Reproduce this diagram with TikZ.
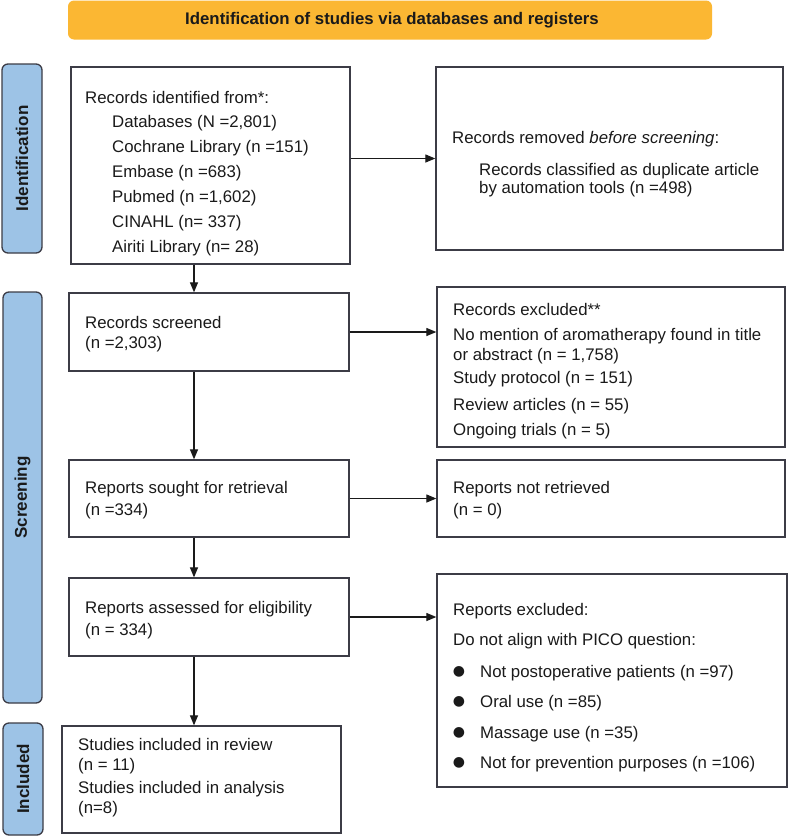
\documentclass[tikz,border=0pt]{standalone}
\usepackage{fontspec}
\setmainfont{Liberation Sans}
\newfontfamily\dejavu{DejaVu Sans}
\usetikzlibrary{arrows.meta}
\definecolor{hdr}{HTML}{FBB733}
\definecolor{side}{HTML}{9DC3E6}
\definecolor{edge}{HTML}{3C3C46}
\definecolor{ink}{HTML}{1A1A1A}
\begin{document}
\begin{tikzpicture}[x=1pt,y=-1pt,
  box/.style={draw=edge, line width=1.3pt, fill=white, inner sep=0pt},
  sidebar/.style={draw=edge, line width=1.3pt, fill=side, rounded corners=6pt, inner sep=0pt},
  sidelabel/.style={font=\bfseries\fontsize{17}{20}\selectfont, text=ink, rotate=90, inner sep=0pt},
  txt/.style={font=\fontsize{16.8}{20}\selectfont, text=ink, inner sep=0pt, anchor=base west},
  bul/.style={font=\dejavu\fontsize{14}{16}\selectfont, text=ink, inner sep=0pt},
  arr/.style={draw=ink, line width=1.2pt, -{Triangle[length=10pt,width=8pt]}}]
\useasboundingbox (0,0) rectangle (789,838);
\fill[white] (0,0) rectangle (789,838);
% header
\node[fill=hdr, rounded corners=6pt, minimum width=644pt, minimum height=39pt, inner sep=0pt] (hdr) at (390,20) {};
\node[font=\bfseries\fontsize{16.8}{20}\selectfont, text=ink, inner sep=0pt] (hdrt) at (392,20)
      {Identification of studies via databases and registers};
% sidebars
\node[sidebar, minimum width=40pt, minimum height=189pt] (sid1) at (22,158.5) {};
\node[sidelabel] (sidl1) at (sid1.center) {Identification};
\node[sidebar, minimum width=39pt, minimum height=411pt] (sid2) at (22.5,497.5) {};
\node[sidelabel] (sidl2) at (sid2.center) {Screening};
\node[sidebar, minimum width=40pt, minimum height=112pt] (sid3) at (23,779) {};
\node[sidelabel] (sidl3) at (sid3.center) {Included};
% boxes
\node[box, minimum width=279pt, minimum height=197pt] (ident) at (210.5,165.5) {};
\node[box, minimum width=347pt, minimum height=183pt] (removed) at (609.5,158.5) {};
\node[box, minimum width=280pt, minimum height=78pt] (screened) at (209,332) {};
\node[box, minimum width=348pt, minimum height=160pt] (excl) at (611,367) {};
\node[box, minimum width=280pt, minimum height=77pt] (sought) at (209,498.5) {};
\node[box, minimum width=348pt, minimum height=77pt] (notret) at (611,498.5) {};
\node[box, minimum width=280pt, minimum height=78pt] (assessed) at (209,617) {};
\node[box, minimum width=350pt, minimum height=213pt] (rexcl) at (612,680.5) {};
\node[box, minimum width=279pt, minimum height=107pt] (incl) at (201.5,779.5) {};
% texts: identification
\node[txt] (t1) at (85,103.5) {Records identified from*:};
\node[txt] (t2) at (112,127.5) {Databases (N =2,801)};
\node[txt] (t3) at (112,152.5) {Cochrane Library (n =151)};
\node[txt] (t4) at (112,177.5) {Embase (n =683)};
\node[txt] (t5) at (112,202.5) {Pubmed (n =1,602)};
\node[txt] (t6) at (112,227.5) {CINAHL (n= 337)};
\node[txt] (t7) at (112,252.5) {Airiti Library (n= 28)};
\node[txt] (r1) at (452,143.5) {Records removed \textit{before screening}:};
\node[txt] (r2) at (479,175.5) {Records classified as duplicate article};
\node[txt] (r3) at (479,193.5) {by automation tools (n =498)};
% screening
\node[txt] (s1) at (85,328.5) {Records screened};
\node[txt] (s2) at (85,348.5) {(n =2,303)};
\node[txt] (e1) at (453,315.5) {Records excluded**};
\node[txt] (e2) at (453,340.5) {No mention of aromatherapy found in title};
\node[txt] (e3) at (453,360.5) {or abstract (n = 1,758)};
\node[txt] (e4) at (453,383.5) {Study protocol (n = 151)};
\node[txt] (e5) at (453,410.5) {Review articles (n = 55)};
\node[txt] (e6) at (453,435.5) {Ongoing trials (n = 5)};
\node[txt] (q1) at (85,493.5) {Reports sought for retrieval};
\node[txt] (q2) at (85,515.5) {(n =334)};
\node[txt] (n1) at (453,493.5) {Reports not retrieved};
\node[txt] (n2) at (453,515.5) {(n = 0)};
\node[txt] (a1) at (85,613.5) {Reports assessed for eligibility};
\node[txt] (a2) at (85,635.5) {(n = 334)};
\node[txt] (x1) at (453,615.5) {Reports excluded:};
\node[txt] (x2) at (453,645.5) {Do not align with PICO question:};
\node[bul] (b1) at (459,672) {●};
\node[txt] (x3) at (480,677.5) {Not postoperative patients (n =97)};
\node[bul] (b2) at (459,702) {●};
\node[txt] (x4) at (480,707.5) {Oral use (n =85)};
\node[bul] (b3) at (459,733) {●};
\node[txt] (x5) at (480,738.5) {Massage use (n =35)};
\node[bul] (b4) at (459,763) {●};
\node[txt] (x6) at (480,768.5) {Not for prevention purposes (n =106)};
% included
\node[txt] (i1) at (78,750.5) {Studies included in review};
\node[txt] (i2) at (78,770.5) {(n = 11)};
\node[txt] (i3) at (78,793.5) {Studies included in analysis};
\node[txt] (i4) at (78,813.5) {(n=8)};
% connectors
\coordinate (axis) at (194,0);
\draw[arr] (ident.south -| axis) -- (screened.north -| axis);
\draw[arr] (screened.south -| axis) -- (sought.north -| axis);
\draw[arr] (sought.south -| axis) -- (assessed.north -| axis);
\draw[arr] (assessed.south -| axis) -- (incl.north -| axis);
\draw[arr] (ident.east |- removed.west) -- (removed.west);
\draw[arr] (screened.east) -- (screened.east -| excl.west);
\draw[arr] (sought.east) -- (notret.west);
\draw[arr] (assessed.east) -- (assessed.east -| rexcl.west);
\end{tikzpicture}
\end{document}
